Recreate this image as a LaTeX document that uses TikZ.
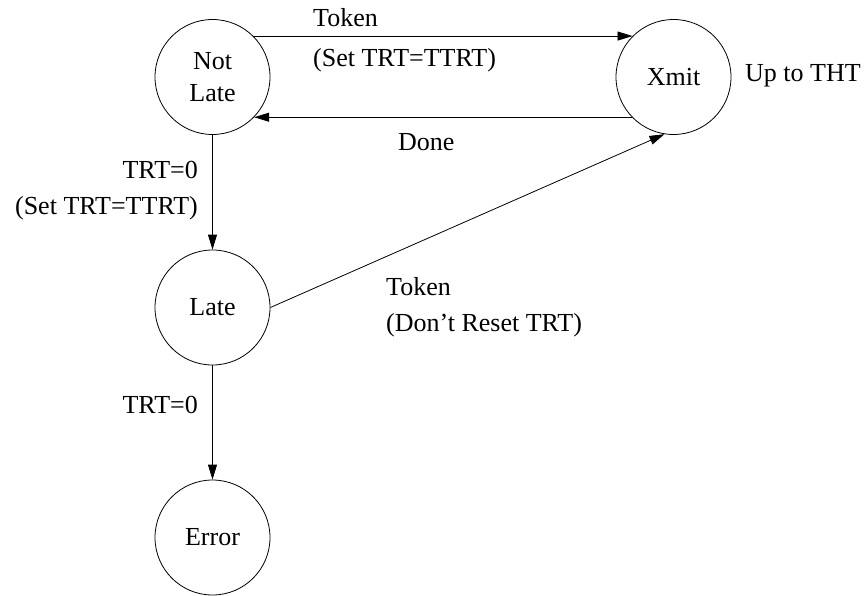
\documentclass[tikz,border=0pt]{standalone}
\usepackage{fontspec}
\setmainfont{Liberation Serif}
\usetikzlibrary{arrows.meta}
\begin{document}
\begin{tikzpicture}[x=1pt,y=-1pt,
  state/.style={circle,draw,line width=0.8pt,minimum size=115pt,inner sep=0pt,font=\fontsize{26}{32}\selectfont,align=center},
  lbl/.style={inner sep=0pt,font=\fontsize{26}{32}\selectfont},
  arr/.style={-{Triangle[length=15pt,width=9pt]},line width=0.8pt}]
\useasboundingbox (0,0) rectangle (866,596);
\node[state] (nl) at (212.5,77) {Not\\Late};
\node[state] (xm) at (673.5,77) {Xmit};
\node[state] (late) at (212.5,307.5) {Late};
\node[state] (err) at (212.5,537.5) {Error};
\draw[arr] (nl.45) -- (xm.135);
\draw[arr] (xm.-136) -- (nl.-44);
\draw[arr] (nl.south) -- (late.north);
\draw[arr] (late.south) -- (err.north);
\draw[arr] (late.east) -- (xm.261);
\node[lbl,anchor=west] (t1) at (313,18) {Token};
\node[lbl,anchor=west] (s1) at (313,60) {(Set TRT=TTRT)};
\node[lbl,anchor=west] (dn) at (398,142) {Done};
\node[lbl,anchor=east] (z1) at (198,170) {TRT=0};
\node[lbl,anchor=east] (s2) at (198,208) {(Set TRT=TTRT)};
\node[lbl,anchor=west] (t2) at (386,287) {Token};
\node[lbl,anchor=west] (dr) at (386,325) {(Don't Reset TRT)};
\node[lbl,anchor=east] (z2) at (198,405) {TRT=0};
\node[lbl,anchor=west] (up) at (745,76) {Up to THT};
\end{tikzpicture}
\end{document}
